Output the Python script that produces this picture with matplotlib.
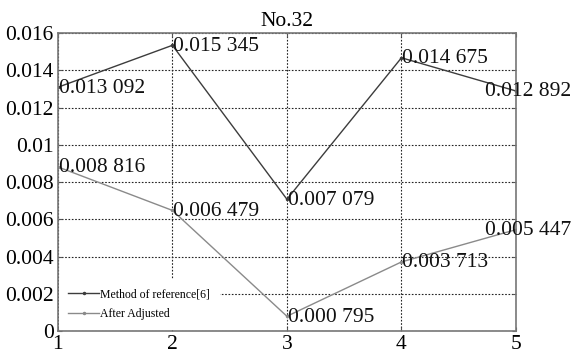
import matplotlib
matplotlib.use('Agg')
import matplotlib.pyplot as plt

# data
cases = [1, 2, 3, 4, 5]
reference6 = [0.013092, 0.015345, 0.007079, 0.014675, 0.012892]
adjusted = [0.008816, 0.006479, 0.000795, 0.003713, 0.005447]
yticks = [0, 0.002, 0.004, 0.006, 0.008, 0.01, 0.012, 0.014, 0.016]
ytick_labels = ['0', '0.002', '0.004', '0.006', '0.008', '0.01', '0.012', '0.014', '0.016']


def fmt(v):
    s = '{:.6f}'.format(v)
    return s[:5] + ' ' + s[5:]


def label_points(ax, xs, ys):
    for x, y in zip(xs, ys):
        # last labels are pulled back so they stay inside the figure
        dx = -31 if x == xs[-1] else 1
        ax.annotate(fmt(y), (x, y), xytext=(dx, -1), textcoords='offset pixels',
                    fontsize=15.5, ha='left', va='center', color='#111111')


def main():
    plt.rcParams['font.family'] = ['Liberation Serif', 'DejaVu Serif']
    fig = plt.figure(figsize=(5.73, 3.56), dpi=100)
    ax = fig.add_axes([0.101, 0.070, 0.7995, 0.837])

    ax.plot(cases, reference6, color='#3c3c3c', lw=1.0, marker='.', ms=3,
            label='Method of reference[6]')
    ax.plot(cases, adjusted, color='#8a8a8a', lw=1.0, marker='.', ms=3,
            label='After Adjusted')

    label_points(ax, cases, reference6)
    label_points(ax, cases, adjusted)

    ax.set_xlim(1, 5)
    ax.set_ylim(0, 0.016)
    ax.set_xticks(cases)
    ax.set_yticks(yticks)
    ax.set_yticklabels(ytick_labels)
    ax.tick_params(labelsize=15.5, direction='in', length=3, top=True, right=True,
                   color='#555555', pad=3)
    ax.grid(True, linestyle=(0, (1.5, 1.5)), color='#222222', lw=0.8)
    for sp in ax.spines.values():
        sp.set_color('#777777')
        sp.set_linewidth(1.2)

    ax.set_title('No.32', fontsize=15.5, pad=5)

    leg = ax.legend(loc='lower left', fontsize=8.5, frameon=True, framealpha=1,
                    edgecolor='white', handlelength=2.6, borderaxespad=0.1,
                    borderpad=0.8, handletextpad=0.1, labelspacing=0.7)
    leg.get_frame().set_linewidth(0)

    fig.savefig('out.png', dpi=100)
    plt.close(fig)


if __name__ == '__main__':
    main()
